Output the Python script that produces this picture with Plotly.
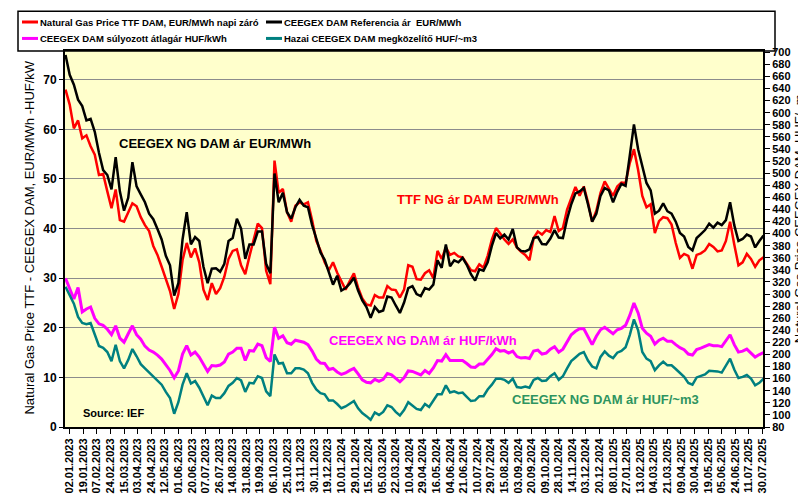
import plotly.graph_objects as go

# trading-day index (0 = 02.01.2023), one reading every 4 trading days
day_idx = list(range(-4, 665, 4))

# Natural Gas Price TTF DAM, EUR/MWh
ttf_eur = [
    68, 65, 60.2, 61.8, 58.2, 58.8, 56.6, 54.9, 50.8, 51, 47.5, 44.1, 47.9, 41.7, 41.4, 43.4,
    45.1, 44.5, 42.3, 40.7, 39.5, 36.5, 34.7, 32.3, 29.8, 27.4, 23.8, 26.8, 33.6, 37.1, 34.2, 36,
    33.2, 27.7, 25.6, 29, 26.8, 28, 30.3, 33.9, 35.5, 35.8, 32.6,
    30.8, 34.4, 37.8, 41, 40.1, 31.5, 28.8, 53.7, 47.2, 48, 43.3, 41.4, 44.6, 45.3, 44.9, 45.3,
    41.7, 37.5, 35.6, 33.2, 31.6, 33.2, 31.1, 29.5, 27.7, 29.4, 31, 28.1, 25.9, 24.7, 24.5, 26.6,
    26.1, 26.1, 28.4, 27.7, 27.6, 26.1, 27.7, 32.6, 32.3, 29.8,
    29.7, 31, 31.6, 30, 35.5, 33.9, 36.2, 34.7, 35.1, 34.4, 34.2, 32.9, 31.6, 31.4, 32.8, 32.1,
    34.5, 37.8, 40.1, 39, 37.8, 36.9, 37.8, 36.2, 35.3, 34.7, 33.6, 38.1, 39.4, 38.8, 39.7, 39.3,
    42.5, 39.5, 40.1, 43.8, 46.2, 48.4, 46.6, 48.5, 45.3,
    41.4, 43.6, 47.2, 49.5, 47.9, 46.6, 48.5, 49.3, 49.2, 53.2, 56, 51.8, 46.6, 44.3, 44.9, 39.1,
    41.5, 42.3, 42.1, 40.8, 37.1, 34.1, 34.9, 34.5, 31.9, 34.7, 35, 35.6, 36.9, 36.3, 35.4, 35.6,
    37.5, 41.4, 36.8, 32.6, 33.2, 34.9, 33.9, 32.3, 33.6, 34.2,
]

# CEEGEX DAM Referencia ár EUR/MWh
ceegex_eur = [
    75, 71, 69, 66, 64.7, 61.8, 62.1, 59.5, 55.3, 51.8, 50.8, 47.9, 54.4, 47.5, 43.6, 46.2,
    53.4, 48.5, 46.9, 45.3, 43, 41.9, 39.9, 37.8, 34.5, 32.6, 26.5, 29, 37.8, 43.3, 36.8, 38.3,
    37.5, 32.3, 29, 31.9, 32, 31.3, 32.9, 37.5, 38.1, 42, 40,
    33.9, 36.8, 36.8, 39.4, 39.4, 32.9, 31, 51.1, 45.3, 47.2, 43.3, 42, 44.3, 45.8, 44.6, 44.3,
    40.7, 38, 35.2, 33.7, 31.3, 28.7, 30.5, 27.5, 28, 28.9, 30.1, 27.5, 25.5, 24.2, 22, 24.2,
    23.2, 23.5, 26.3, 26.1, 24.5, 23, 25.1, 28, 28.4, 26.8,
    26.4, 28, 27.7, 28.7, 33.6, 32.1, 36.8, 32.4, 33.6, 33.2, 34.1, 32.7, 30.8, 29.5, 31.8, 31.5,
    33.2, 36.5, 39.1, 38, 38.8, 37.8, 39.9, 36.2, 35.5, 35.4, 35.8, 38.1, 38.3, 36.9, 36.8, 38,
    39.7, 38.2, 38.1, 41.9, 44.9, 47.1, 47.5, 48.2, 44.9,
    41.4, 43, 46.6, 48.2, 47.7, 45.3, 47.4, 49, 48.6, 54.7, 61, 56, 52.4, 49.2, 47.7, 43,
    43.6, 45.1, 43.5, 43, 41.4, 39.1, 38.4, 36.3, 35.6, 38.1, 38.9, 39.7, 41, 40.2, 41.2, 40.7,
    41.7, 45.3, 40.7, 37.5, 37.9, 38.8, 38.4, 36.2, 37.5, 38.6,
]

# CEEGEX DAM súlyozott átlagár HUF/kWh
ceegex_huf_kwh = [
    30, 27.7, 25.8, 28.1, 23.2, 23.8, 24.2, 21.9, 20.8, 20.5, 19.7, 18.6, 20.4, 17.9, 17.1, 18.8,
    20.4, 18.6, 17.7, 16.3, 15.5, 15.1, 14.5, 13.7, 12.6, 11.4, 9.9, 11.3, 14.7, 16.4, 14.5, 15.1,
    14.1, 12.5, 11.2, 12.4, 12.3, 12.5, 13.1, 14.7, 15.1, 15.9, 15.9,
    13.4, 15.4, 15.3, 16.7, 16.4, 14, 13.2, 20.1, 17.9, 18.4, 17, 16.7, 17.5, 17.3, 17.1, 16.6,
    15.3, 13.7, 12.9, 12.8, 11.6, 11.8, 11.1, 10.6, 10.9, 11.4, 11.8, 10.7, 9.5, 9, 8.9, 9.6,
    9.2, 9.6, 10.8, 10.5, 9.8, 9.1, 9.9, 11.3, 11.2, 10.8,
    10.5, 11.4, 10.8, 11.9, 13.4, 13.3, 14.6, 13.4, 13.4, 13.3, 13.4, 12.8, 12.1, 12, 12.7, 12.7,
    13.6, 14.6, 15.8, 15.3, 15.4, 14.9, 15.3, 14.2, 13.9, 14, 13.8, 15.3, 15.5, 14.7, 14.9, 15.7,
    16.2, 15.1, 15.7, 17.3, 18.6, 19.3, 19.8, 19.8, 18.3,
    16.6, 18.3, 19.6, 20.1, 19.5, 18.8, 19.6, 19.9, 20.5, 22.5, 25, 23, 19.9, 18.9, 18.3, 16.7,
    17.5, 17.9, 17.3, 17.3, 16.6, 16, 15.6, 14.7, 14.5, 15.6, 15.9, 16.2, 16.6, 16.4, 16.4, 16.2,
    17.3, 18.6, 16.6, 15.1, 15.3, 15.7, 14.9, 14.1, 14.6, 15,
]

# Hazai CEEGEX DAM megközelítő HUF/~m3 (right axis)
ceegex_huf_m3 = [
    312, 297, 284, 262, 252, 250, 252, 233, 214, 211, 204, 189, 216, 189, 177, 191,
    209, 197, 184, 177, 170, 164, 156, 150, 138, 128, 102, 121, 150, 169, 152, 156,
    145, 130, 116, 132, 128, 128, 136, 148, 153, 161, 157,
    138, 153, 152, 164, 161, 139, 131, 200, 185, 186, 169, 169, 177, 177, 175, 169,
    153, 142, 136, 134, 124, 124, 118, 111, 114, 118, 123, 111, 103, 98, 92, 104,
    100, 105, 116, 113, 105, 99, 108, 121, 116, 110,
    108, 118, 113, 124, 134, 134, 149, 137, 139, 136, 137, 130, 123, 124, 131, 131,
    142, 150, 160, 160, 158, 153, 160, 146, 145, 147, 145, 158, 161, 156, 157, 164,
    169, 158, 164, 177, 189, 195, 201, 204, 190,
    180, 177, 196, 205, 198, 194, 203, 206, 212, 232, 258, 240, 204, 193, 189, 174,
    182, 188, 182, 182, 176, 170, 163, 153, 150, 162, 165, 167, 173, 173, 172, 170,
    181, 193, 175, 161, 163, 166, 160, 149, 153, 160,
]

# x tick labels, one every 13 trading days
tick_labels = [
    "02.01.2023", "19.01.2023", "07.02.2023", "24.02.2023", "15.03.2023", "03.04.2023",
    "24.04.2023", "12.05.2023", "01.06.2023", "20.06.2023", "07.07.2023", "26.07.2023",
    "14.08.2023", "31.08.2023", "19.09.2023", "06.10.2023", "25.10.2023", "13.11.2023",
    "30.11.2023", "19.12.2023", "10.01.2024", "29.01.2024", "15.02.2024", "05.03.2024",
    "22.03.2024", "10.04.2024", "29.04.2024", "16.05.2024", "04.06.2024", "21.06.2024",
    "10.07.2024", "29.07.2024", "15.08.2024", "03.09.2024", "20.09.2024", "09.10.2024",
    "28.10.2024", "14.11.2024", "03.12.2024", "20.12.2024", "08.01.2025", "27.01.2025",
    "13.02.2025", "04.03.2025", "21.03.2025", "09.04.2025", "30.04.2025", "19.05.2025",
    "05.06.2025", "24.06.2025", "11.07.2025", "30.07.2025",
]
tick_step = 13
tick_pos = [k * tick_step for k in range(len(tick_labels))]

FONT = "Liberation Sans, Arial, sans-serif"

# pixel -> paper helpers (plot area: x 57..755, y 43..432)
def px_x(px):
    return (px - 57) / 698

def px_y(py):
    return (432 - py) / 389

fig = go.Figure()

series = [
    ("Natural Gas Price TTF DAM, EUR/MWh napi záró", ttf_eur, "#FF0000", "y", 2.5),
    ("CEEGEX DAM Referencia ár  EUR/MWh", ceegex_eur, "#000000", "y", 2.5),
    ("CEEGEX DAM súlyozott átlagár HUF/kWh", ceegex_huf_kwh, "#FF00FF", "y", 3),
    ("Hazai CEEGEX DAM megközelítő HUF/~m3", ceegex_huf_m3, "#008080", "y2", 2.5),
]
for name, vals, col, ax, w in series:
    fig.add_trace(go.Scatter(
        x=day_idx, y=vals, mode="lines", name=name, yaxis=ax,
        line=dict(color=col, width=w), showlegend=False,
    ))

# hand-drawn legend (2 x 2) in a frame above the plot
legend_slots = [(14, 13), (258, 13), (14, 30), (258, 30)]
for (lx, ly), (name, _, col, _, _) in zip(legend_slots, series):
    fig.add_shape(
        type="line", xref="paper", yref="paper",
        x0=px_x(lx), x1=px_x(lx + 16), y0=px_y(ly), y1=px_y(ly),
        line=dict(color=col, width=3),
    )
    fig.add_annotation(
        text=name, xref="paper", yref="paper",
        x=px_x(lx + 16), y=px_y(ly), showarrow=False,
        xanchor="left", yanchor="middle",
        font=dict(family=FONT, size=9.5, color="#000000", weight="bold"),
    )

fig.add_shape(
    type="rect", xref="paper", yref="paper",
    x0=px_x(10), x1=px_x(767), y0=1.0, y1=px_y(2),
    line=dict(color="#000000", width=1.5), fillcolor="rgba(0,0,0,0)",
)

# text labels inside the plot
labels = [
    ("CEEGEX NG DAM ár EUR/MWh", 207, 139, "#000000", 13),
    ("TTF NG ár DAM EUR/MWh", 470, 197, "#FF0000", 13),
    ("CEEGEX NG DAM ár HUF/kWh", 415, 343, "#FF00FF", 13),
    ("CEEGEX NG DAM ár HUF/~m3", 597, 404, "#2E9460", 13),
    ("Source: IEF", 105, 418, "#000000", 11),
]
for txt, lx, ly, col, sz in labels:
    fig.add_annotation(
        text=txt, xref="paper", yref="paper",
        x=px_x(lx), y=px_y(ly),
        showarrow=False, xanchor="center", yanchor="middle",
        font=dict(family=FONT, size=sz, color=col, weight="bold"),
    )

# axis titles
fig.add_annotation(
    text="Natural Gas Price TTF - CEEGEX DAM, EUR/MWh -HUF/kW", xref="paper", yref="paper",
    x=px_x(22), y=px_y(236), textangle=-90,
    showarrow=False, xanchor="center", yanchor="middle",
    font=dict(family=FONT, size=13, color="#000000"),
)
fig.add_annotation(
    text="Natural Gas Price CEEGEX DAM, HUF/~m", xref="paper", yref="paper",
    x=px_x(791), y=px_y(216), textangle=-90,
    showarrow=False, xanchor="center", yanchor="middle",
    font=dict(family=FONT, size=13, color="#000000"),
)

fig.update_layout(
    width=806, height=497,
    margin=dict(l=57, r=51, t=43, b=65),
    paper_bgcolor="#FFFFFF",
    plot_bgcolor="#FFFFCC",
    showlegend=False,
    xaxis=dict(
        range=[-4.5, 663.5],
        tickmode="array", tickvals=tick_pos, ticktext=tick_labels,
        tickangle=-90, ticks="outside", ticklen=5, tickcolor="#000000",
        tickfont=dict(family=FONT, size=11, color="#000000", weight="bold"),
        showgrid=False, zeroline=False,
        showline=True, linecolor="#000000", linewidth=2, mirror=True,
    ),
    yaxis=dict(
        range=[0, 75.8], tick0=0, dtick=10,
        ticks="outside", ticklen=4, tickcolor="#000000",
        tickfont=dict(family=FONT, size=12, color="#000000", weight="bold"),
        showgrid=True, gridcolor="#8C8C8C", gridwidth=1, zeroline=False,
        showline=True, linecolor="#000000", linewidth=2,
    ),
    yaxis2=dict(
        overlaying="y", side="right",
        range=[80, 702], tick0=80, dtick=20,
        ticks="outside", ticklen=5, tickcolor="#000000",
        tickfont=dict(family=FONT, size=11, color="#000000", weight="bold"),
        showgrid=False, zeroline=False,
        showline=True, linecolor="#000000", linewidth=2,
    ),
)

fig.write_html("out.html")
